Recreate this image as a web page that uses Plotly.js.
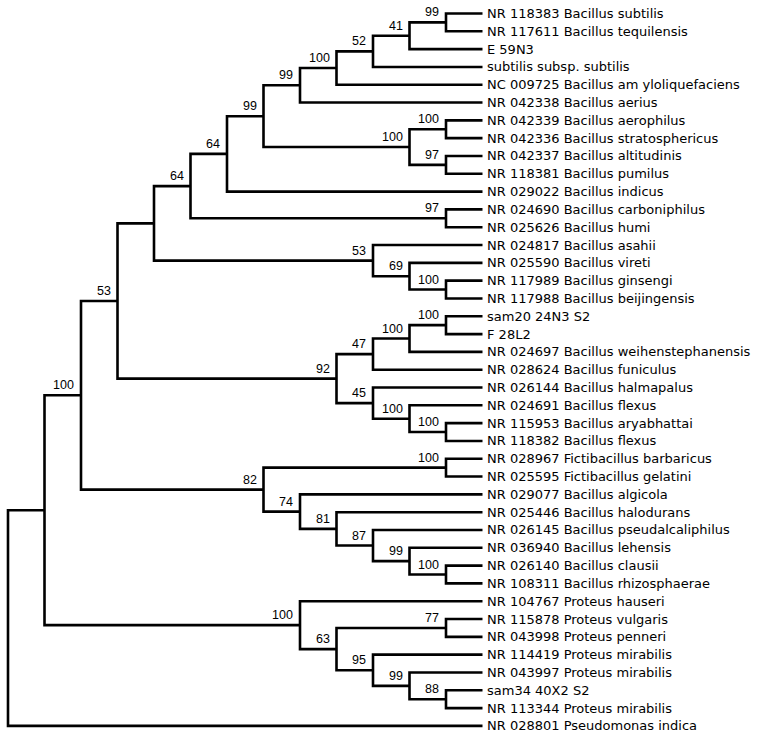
<!DOCTYPE html>
<html>
<head>
<meta charset="utf-8">
<script src="https://cdn.plot.ly/plotly-3.0.1.min.js"></script>
<style>
  body { margin: 0; background: #fff; }
  #tree { width: 767px; height: 737px; }
</style>
</head>
<body>
<div id="tree"></div>
<script>
// Leaves, top to bottom
let leafNames = [
  "NR 118383 Bacillus subtilis",
  "NR 117611 Bacillus tequilensis",
  "E 59N3",
  "subtilis subsp. subtilis",
  "NC 009725 Bacillus am yloliquefaciens",
  "NR 042338 Bacillus aerius",
  "NR 042339 Bacillus aerophilus",
  "NR 042336 Bacillus stratosphericus",
  "NR 042337 Bacillus altitudinis",
  "NR 118381 Bacillus pumilus",
  "NR 029022 Bacillus indicus",
  "NR 024690 Bacillus carboniphilus",
  "NR 025626 Bacillus humi",
  "NR 024817 Bacillus asahii",
  "NR 025590 Bacillus vireti",
  "NR 117989 Bacillus ginsengi",
  "NR 117988 Bacillus beijingensis",
  "sam20 24N3 S2",
  "F 28L2",
  "NR 024697 Bacillus weihenstephanensis",
  "NR 028624 Bacillus funiculus",
  "NR 026144 Bacillus halmapalus",
  "NR 024691 Bacillus flexus",
  "NR 115953 Bacillus aryabhattai",
  "NR 118382 Bacillus flexus",
  "NR 028967 Fictibacillus barbaricus",
  "NR 025595 Fictibacillus gelatini",
  "NR 029077 Bacillus algicola",
  "NR 025446 Bacillus halodurans",
  "NR 026145 Bacillus pseudalcaliphilus",
  "NR 036940 Bacillus lehensis",
  "NR 026140 Bacillus clausii",
  "NR 108311 Bacillus rhizosphaerae",
  "NR 104767 Proteus hauseri",
  "NR 115878 Proteus vulgaris",
  "NR 043998 Proteus penneri",
  "NR 114419 Proteus mirabilis",
  "NR 043997 Proteus mirabilis",
  "sam34 40X2 S2",
  "NR 113344 Proteus mirabilis",
  "NR 028801 Pseudomonas indica"
];

// Internal nodes: children are leaf indices or node ids ("n1"...)
let nodeIds = [
  "n1", "n2", "n3", "n4", "n5", "n6", "n7", "n8", "n9", "n10",
  "n11", "n12", "n13", "n14", "n15", "n16", "n17", "n18", "n19", "n20",
  "n21", "n22", "n23", "n24", "n25", "n26", "n27", "n28", "n29", "n30",
  "n31", "n32", "n33", "n34", "n35", "n36", "n37", "n38", "n39", "n40"
];
let nodeChildren = [
  [0, 1], ["n1", 2], ["n2", 3], ["n3", 4], ["n4", 5],
  [6, 7], [8, 9], ["n6", "n7"], ["n5", "n8"], ["n9", 10],
  [11, 12], ["n10", "n11"], [15, 16], [14, "n13"], [13, "n14"],
  ["n12", "n15"], [17, 18], ["n17", 19], ["n18", 20], [23, 24],
  [22, "n20"], [21, "n21"], ["n19", "n22"], ["n16", "n23"], [25, 26],
  [31, 32], [30, "n26"], [29, "n27"], [28, "n28"], [27, "n29"],
  ["n25", "n30"], ["n24", "n31"], [34, 35], [38, 39], [37, "n34"],
  [36, "n35"], ["n33", "n36"], [33, "n37"], ["n32", "n38"], ["n39", 40]
];
// node depth (cladogram steps), leaves sit at leafDepth
let nodeDepth = [
  12, 11, 10, 9, 8, 12, 12, 11, 7, 6,
  12, 5, 12, 11, 10, 4, 12, 11, 10, 12,
  11, 10, 9, 3, 12, 12, 11, 10, 9, 8,
  7, 2, 12, 12, 11, 10, 9, 8, 1, 0
];
let bootstrap = [
  "99", "41", "52", "100", "99", "100", "97", "100", "99", "64",
  "97", "64", "100", "69", "53", "", "100", "100", "47", "100",
  "100", "45", "92", "53", "100", "100", "99", "87", "81", "74",
  "82", "100", "77", "88", "99", "95", "63", "100", "", ""
];
let leafDepth = 13;

function nodePosition(ref, pos) {
  if (typeof ref === "number") return { x: leafDepth, y: ref };
  return pos[ref];
}

function layoutTree() {
  let pos = {};
  nodeIds.forEach(function (id, i) {
    let kids = nodeChildren[i].map(function (c) { return nodePosition(c, pos); });
    let ys = kids.map(function (k) { return k.y; });
    pos[id] = { x: nodeDepth[i], y: (Math.min.apply(null, ys) + Math.max.apply(null, ys)) / 2 };
  });
  return pos;
}

function createTree() {
  let pos = layoutTree();
  let xs = [];
  let ys = [];

  nodeIds.forEach(function (id, i) {
    let kids = nodeChildren[i].map(function (c) { return nodePosition(c, pos); });
    let a = kids[0];
    let b = kids[kids.length - 1];
    let nx = pos[id].x;
    xs.push(a.x, nx, nx, b.x, null);
    ys.push(a.y, a.y, b.y, b.y, null);
  });

  let branches = {
    x: xs,
    y: ys,
    mode: "lines",
    line: { color: "#000", width: 2.6 },
    hoverinfo: "skip",
    showlegend: false
  };

  let annotations = [];
  nodeIds.forEach(function (id, i) {
    if (!bootstrap[i]) return;
    annotations.push({
      x: pos[id].x,
      y: pos[id].y,
      text: bootstrap[i],
      showarrow: false,
      xanchor: "right",
      yanchor: "bottom",
      xshift: -5,
      yshift: 1,
      font: { family: "Liberation Sans, Arial, sans-serif", size: 12.5, color: "#000" }
    });
  });
  leafNames.forEach(function (name, i) {
    annotations.push({
      x: leafDepth,
      y: i,
      text: name,
      showarrow: false,
      xanchor: "left",
      yanchor: "middle",
      xshift: 2,
      font: { family: "DejaVu Sans, sans-serif", size: 13, color: "#000" }
    });
  });

  let step = 36.5;
  let rowStep = 17.81;
  let hiddenAxis = {
    showgrid: false,
    zeroline: false,
    showticklabels: false,
    showline: false,
    ticks: "",
    fixedrange: true
  };

  let layout = {
    width: 767,
    height: 737,
    margin: { l: 0, r: 0, t: 0, b: 0 },
    paper_bgcolor: "#fff",
    plot_bgcolor: "#fff",
    xaxis: Object.assign({ range: [-8 / step, (767 - 8) / step] }, hiddenAxis),
    yaxis: Object.assign({ range: [(737 - 13.5) / rowStep, -13.5 / rowStep] }, hiddenAxis),
    annotations: annotations
  };

  Plotly.newPlot("tree", [branches], layout, { displayModeBar: false, staticPlot: true });
}

createTree();
</script>
</body>
</html>
